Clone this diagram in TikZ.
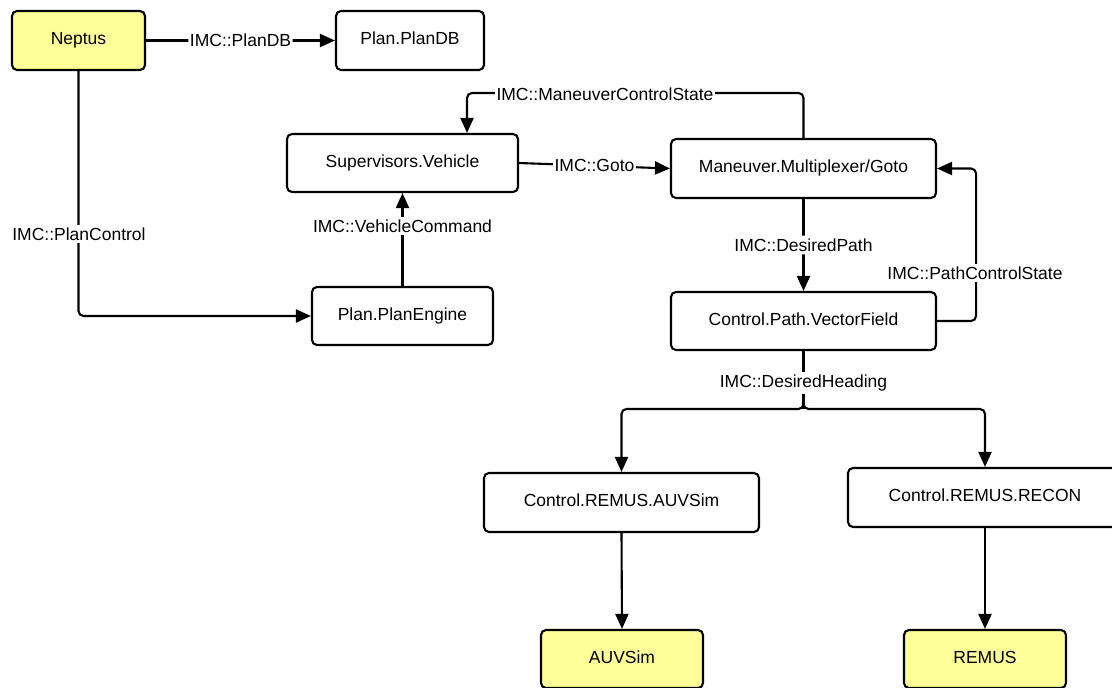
\documentclass[tikz,border=0pt]{standalone}
\usepackage{fontspec}
\setmainfont{Liberation Sans}
\usetikzlibrary{arrows.meta}
\definecolor{noteyellow}{RGB}{255,255,153}
\begin{document}
\begin{tikzpicture}[x=1pt,y=-1pt,
  font=\fontsize{17.5}{20}\selectfont,
  box/.style={draw=black, line width=2.1pt, rounded corners=5pt, fill=white,
              align=center, inner sep=0pt},
  ext/.style={box, fill=noteyellow},
  conn/.style={line width=2.1pt, rounded corners=5pt,
               -{Triangle[length=15pt,width=13pt]}},
  wire/.style={line width=2.1pt, rounded corners=5pt},
  lbl/.style={fill=white, inner xsep=1.5pt, inner ysep=3pt}]
\useasboundingbox (0,0) rectangle (1112,688);
\fill[white] (0,0) rectangle (1112,688);

% components
\node[ext, minimum width=133pt, minimum height=59pt] (nep) at (78.5,40.5) {Neptus\strut};
\node[box, minimum width=148pt, minimum height=59pt] (pdb) at (410,40.5) {Plan.PlanDB\strut};
\node[box, minimum width=231pt, minimum height=58pt] (sup) at (402.5,163) {Supervisors.Vehicle\strut};
\node[box, minimum width=265pt, minimum height=59pt] (man) at (803.5,168.5) {Maneuver.Multiplexer/Goto\strut};
\node[box, minimum width=181pt, minimum height=58pt] (pe) at (402.5,316) {Plan.PlanEngine\strut};
\node[box, minimum width=265pt, minimum height=58pt] (vf) at (803.5,321) {Control.Path.VectorField\strut};
\node[box, minimum width=275pt, minimum height=59pt] (auv) at (621.5,502.5) {Control.REMUS.AUVSim\strut};
\node[box, minimum width=274pt, minimum height=59pt] (rec) at (985,497.5) {Control.REMUS.RECON\strut};
\node[ext, minimum width=162pt, minimum height=58pt] (auvsim) at (622,659) {AUVSim\strut};
\node[ext, minimum width=162pt, minimum height=58pt] (remus) at (985,659) {REMUS\strut};

% message flows
\draw[conn] (nep.east) -- node[lbl] (lplandb) {IMC::PlanDB} (pdb.west);
\draw[conn] (sup.east) -- node[lbl] (lgoto) {IMC::Goto} (man.west);
\draw[conn] (man.north) -- ++(0,-45) -| ([xshift=64.5pt]sup.north);
\draw[conn] (nep.south) |- (pe.west);
\draw[conn] (pe.north) -- (sup.south);
\draw[conn] (man.south) -- node[lbl] (ldpath) {IMC::DesiredPath} (vf.north);
\draw[conn] (vf.east) -- ++(39,0) |- (man.east);
\coordinate (split) at (803.5,409);
\draw[wire] (vf.south) -- (split);
\draw[conn] ([yshift=6pt]split) -- (split) -| (auv.north);
\draw[conn] ([yshift=6pt]split) -- (split) -| (rec.north);
\draw[conn] (auv.south) -- (auvsim.north);
\draw[conn] (rec.south) -- (remus.north);

% labels sitting on the bent flows
\node[lbl] (lmcs) at (605,94) {IMC::ManeuverControlState};
\node[lbl] (lpc) at (79,234) {IMC::PlanControl};
\node[lbl] (lvc) at (402.5,226) {IMC::VehicleCommand};
\node[lbl] (lpcs) at (975,273) {IMC::PathControlState};
\node[lbl] (ldh) at (803.5,383) {IMC::DesiredHeading};
\end{tikzpicture}
\end{document}
